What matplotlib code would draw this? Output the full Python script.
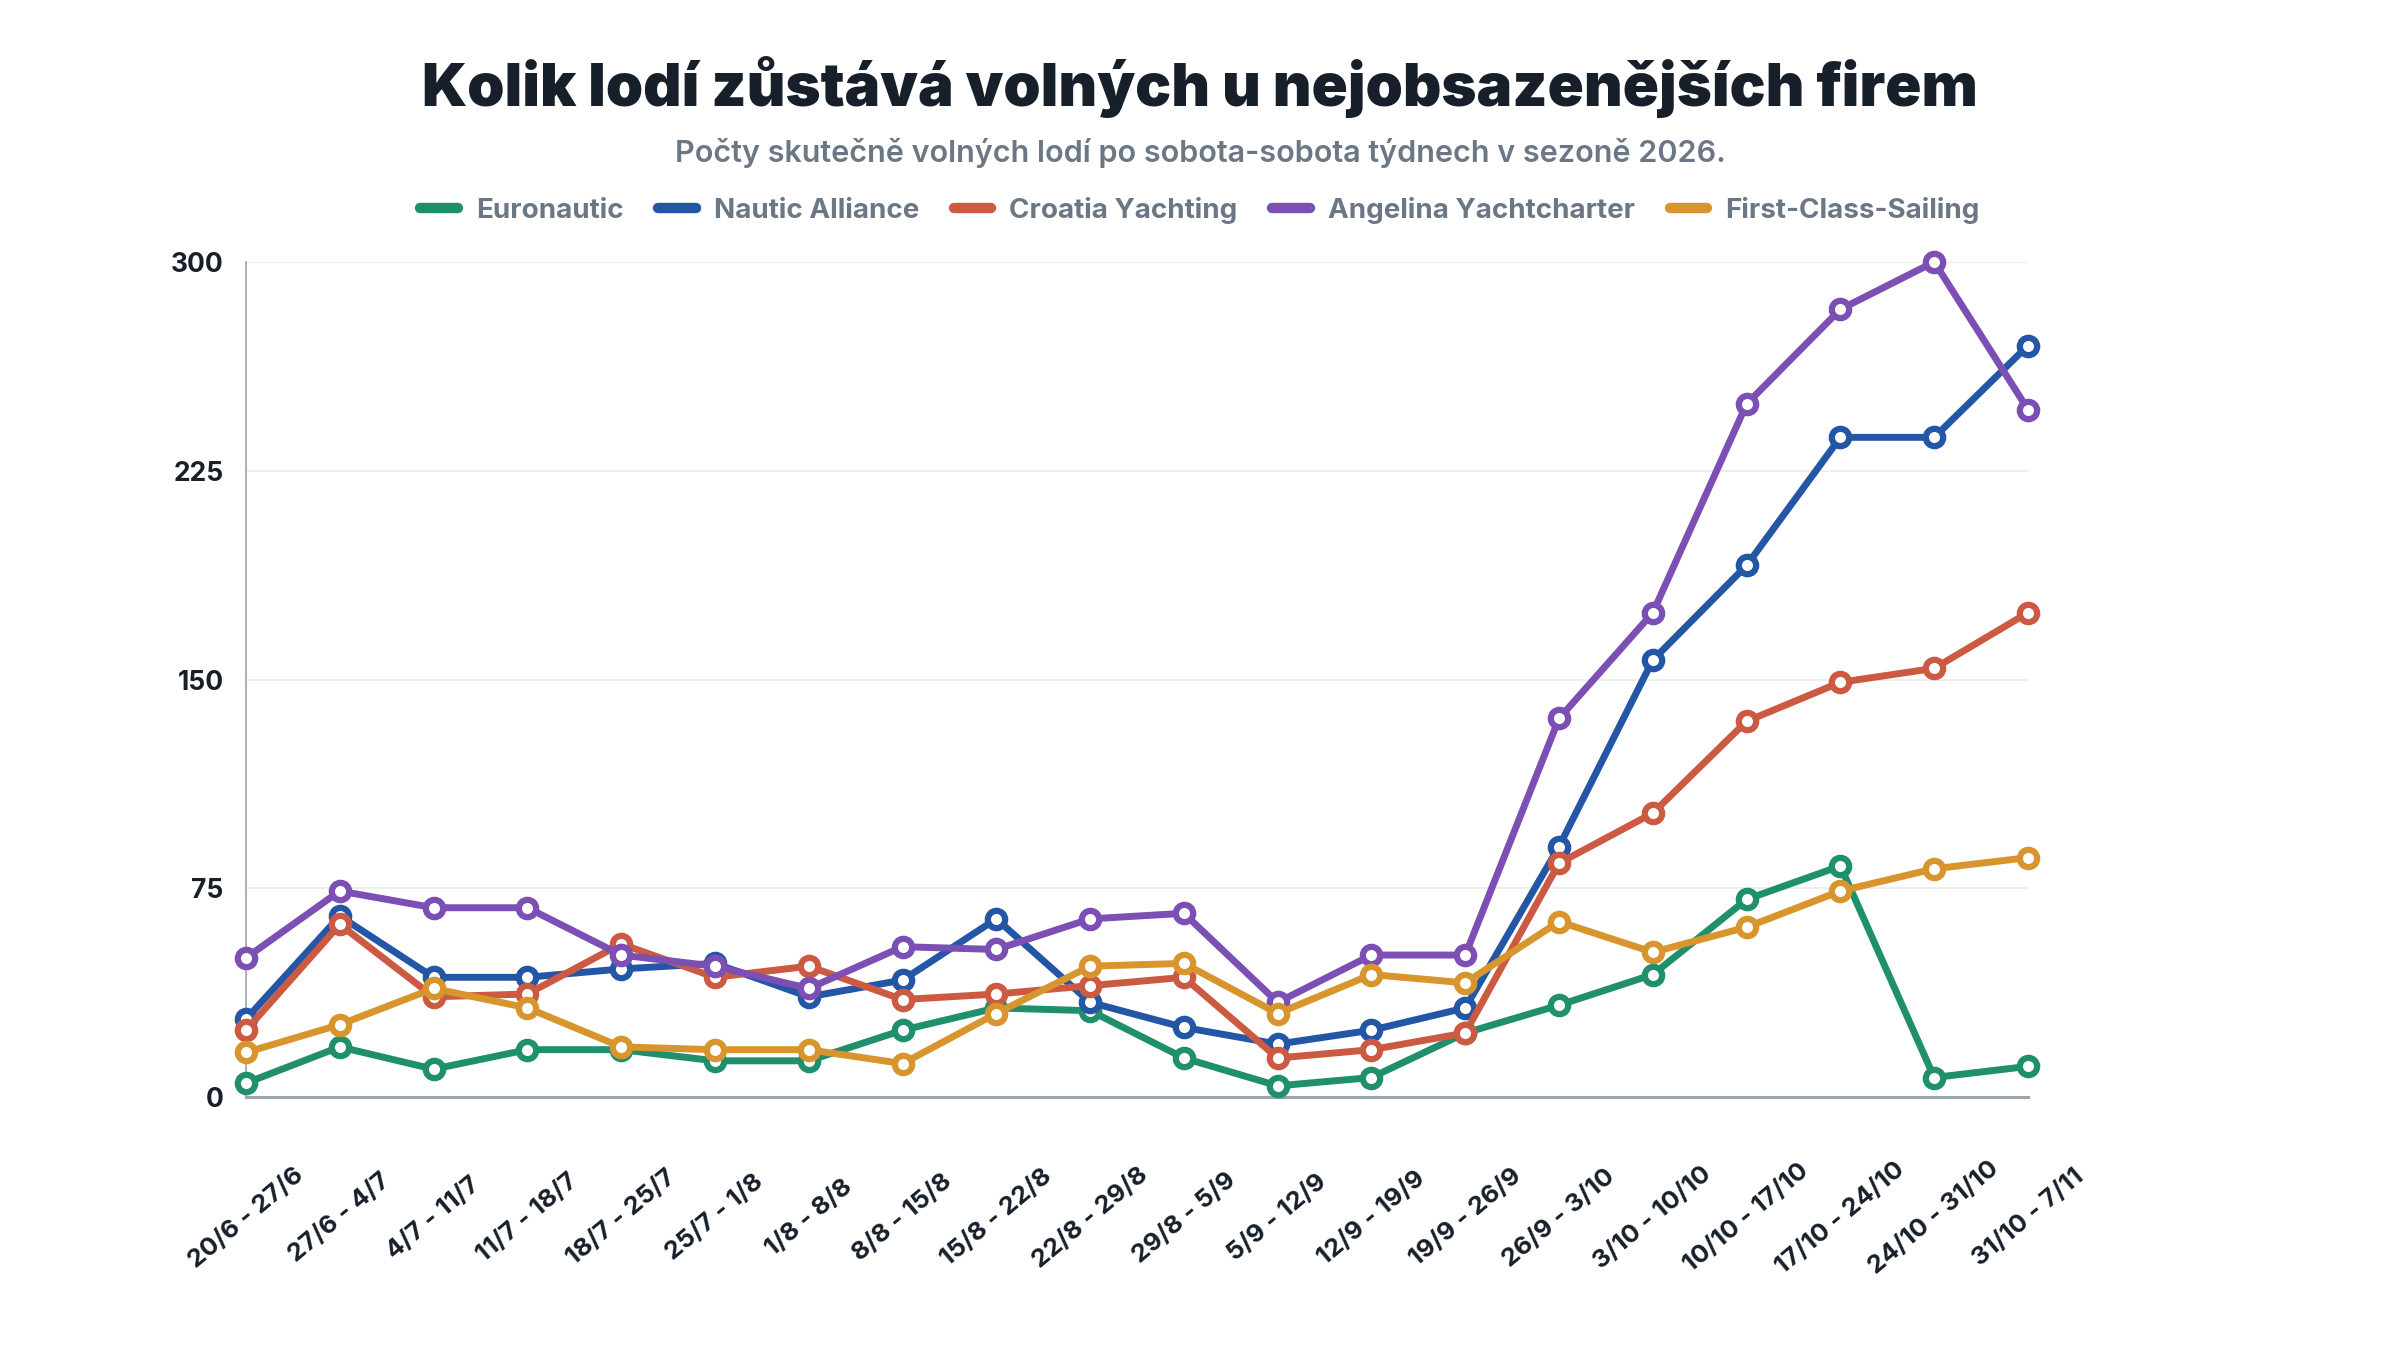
import matplotlib
matplotlib.use("Agg")
import matplotlib.pyplot as plt
from matplotlib.lines import Line2D

plt.rcParams['font.family'] = ['Inter', 'DejaVu Sans']

# tydny sobota-sobota
tydny = ["20/6 - 27/6", "27/6 - 4/7", "4/7 - 11/7", "11/7 - 18/7", "18/7 - 25/7",
         "25/7 - 1/8", "1/8 - 8/8", "8/8 - 15/8", "15/8 - 22/8", "22/8 - 29/8",
         "29/8 - 5/9", "5/9 - 12/9", "12/9 - 19/9", "19/9 - 26/9", "26/9 - 3/10",
         "3/10 - 10/10", "10/10 - 17/10", "17/10 - 24/10", "24/10 - 31/10", "31/10 - 7/11"]

euronautic = [5, 18, 10, 17, 17, 13, 13, 24, 32, 31, 14, 4, 7, 23, 33, 44, 71, 83, 7, 11]
nautic_alliance = [28, 65, 43, 43, 46, 48, 36, 42, 64, 34, 25, 19, 24, 32, 90, 157, 191, 237, 237, 270]
croatia_yachting = [24, 62, 36, 37, 55, 43, 47, 35, 37, 40, 43, 14, 17, 23, 84, 102, 135, 149, 154, 174]
angelina = [50, 74, 68, 68, 51, 47, 39, 54, 53, 64, 66, 34, 51, 51, 136, 174, 249, 283, 300, 247]
first_class = [16, 26, 39, 32, 18, 17, 17, 12, 30, 47, 48, 30, 44, 41, 63, 52, 61, 74, 82, 86]

nazvy = ["Euronautic", "Nautic Alliance", "Croatia Yachting", "Angelina Yachtcharter", "First-Class-Sailing"]
barvy = ["#1f8f6c", "#2456a6", "#cc5a43", "#7b4fb4", "#d9952d"]
rady = [euronautic, nautic_alliance, croatia_yachting, angelina, first_class]

fig = plt.figure(figsize=(24, 13.5), dpi=100)
ax = fig.add_axes([246 / 2400, 1 - 1097 / 1350, (2028 - 246) / 2400, (1097 - 262) / 1350])

x = range(len(tydny))
for hodnoty, barva in zip(rady, barvy):
    ax.plot(x, hodnoty, color=barva, lw=5, marker='o', ms=12.5, mew=4.5,
            mfc='white', mec=barva, clip_on=False, zorder=3)

ax.set_xlim(0, len(tydny) - 1)
ax.set_ylim(0, 300)
ax.set_yticks([0, 75, 150, 225, 300])
ax.set_xticks(list(x))
ax.set_xticklabels(tydny, rotation=40, ha='center', va='center', rotation_mode='anchor',
                   fontsize=18.5, fontweight='bold', color='#17202a')
ax.tick_params(axis='x', length=0, pad=87)
ax.tick_params(axis='y', length=0, pad=16, labelsize=19, labelcolor='#17202a')
for lbl in ax.get_yticklabels():
    lbl.set_fontweight('bold')

ax.grid(axis='y', color='#eceff2', lw=1.5, zorder=0)
for s in ['top', 'right']:
    ax.spines[s].set_visible(False)
ax.spines['left'].set_color('#a3abb5')
ax.spines['left'].set_linewidth(1.3)
ax.spines['bottom'].set_color('#9aa2ac')
ax.spines['bottom'].set_linewidth(2.2)

fig.text(0.5, 1 - 87 / 1350, "Kolik lodí zůstává volných u nejobsazenějších firem",
         ha='center', va='center', fontsize=43, fontweight='black', color='#17202a')
fig.text(0.5, 1 - 153 / 1350, "Počty skutečně volných lodí po sobota-sobota týdnech v sezoně 2026.",
         ha='center', va='center', fontsize=22, fontweight='semibold', color='#6b7785')

handles = [Line2D([0], [0], color=b, lw=7.5, solid_capstyle='round') for b in barvy]
leg = fig.legend(handles, nazvy, loc='center', bbox_to_anchor=(0.5, 1 - 210 / 1350), ncol=5,
                 frameon=False, handlelength=1.35, handletextpad=0.65, columnspacing=1.25,
                 prop={'size': 20, 'weight': 'bold'})
for t in leg.get_texts():
    t.set_color('#6b7785')

fig.savefig("out.png", dpi=100, facecolor='white')
